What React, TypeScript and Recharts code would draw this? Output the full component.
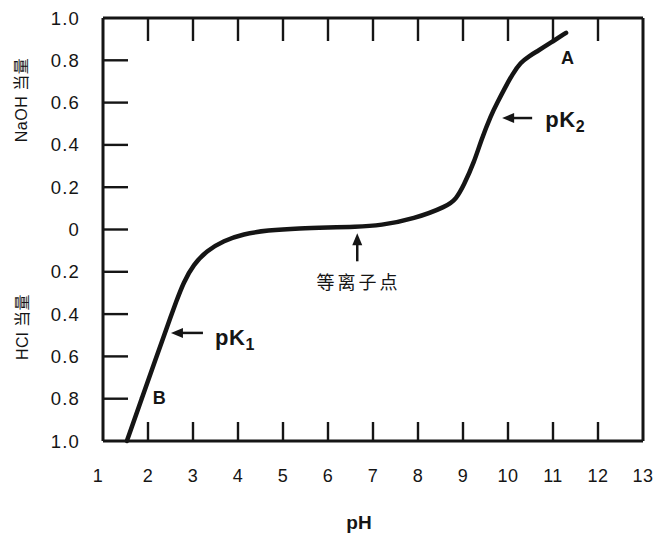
import { LineChart, Line, XAxis, YAxis, ReferenceDot } from 'recharts';

// titration curve
const phValues = [1.53, 1.86, 2.19, 2.36, 2.5, 2.62, 2.79, 3.01, 3.31, 3.68, 4.12, 4.64, 5.39, 6.0, 6.6, 7.17, 7.91, 8.65, 8.85, 9.02, 9.25, 9.4, 9.62, 9.77, 9.92, 10.1, 10.28, 10.47, 10.66, 10.95, 11.29];
const equivalents = [-1.0, -0.8, -0.6, -0.5, -0.415, -0.345, -0.25, -0.165, -0.1, -0.053, -0.021, -0.004, 0.006, 0.009, 0.012, 0.019, 0.05, 0.11, 0.145, 0.21, 0.32, 0.42, 0.54, 0.603, 0.665, 0.735, 0.79, 0.82, 0.844, 0.883, 0.93];

const phTicks = [1, 2, 3, 4, 5, 6, 7, 8, 9, 10, 11, 12, 13];
const eqTicks = [1, 0.8, 0.6, 0.4, 0.2, 0, -0.2, -0.4, -0.6, -0.8, -1];

const data = phValues.map((ph, i) => ({ ph, eq: equivalents[i] }));

const INK = '#151515';
const FONT = '"Liberation Sans", Arial, Helvetica, sans-serif';
const CJK = '"Liberation Sans", "Noto Sans CJK SC", sans-serif';

const fmtEq = (v: number) => (v === 0 ? '0' : Math.abs(v).toFixed(1));

function BottomTick({ x, y, payload }: any) {
  const v = payload.value;
  return (
    <g>
      {v > 1 && v < 13 && <line x1={x} y1={y} x2={x} y2={y - 19} stroke={INK} strokeWidth={2.4} />}
      <text x={v === 1 ? x - 5 : x} y={y + 41} textAnchor="middle" fontSize={18} fontFamily={FONT} fill={INK} letterSpacing={0.5}>
        {v}
      </text>
    </g>
  );
}

function TopTick({ x, y, payload }: any) {
  const v = payload.value;
  if (v <= 1 || v >= 13) return <g />;
  return <line x1={x} y1={y} x2={x} y2={y + 23} stroke={INK} strokeWidth={2.4} />;
}

function LeftTick({ x, y, payload }: any) {
  const v = payload.value;
  return (
    <g>
      {Math.abs(v) < 1 && <line x1={x} y1={y} x2={x + 25} y2={y} stroke={INK} strokeWidth={2.4} />}
      <text x={x - 23} y={y + 6.5} textAnchor="end" fontSize={18.5} fontFamily={FONT} fill={INK} letterSpacing={1.2}>
        {fmtEq(v)}
      </text>
    </g>
  );
}

function RightTick({ x, y, payload }: any) {
  const v = payload.value;
  if (Math.abs(v) >= 1) return <g />;
  return <line x1={x} y1={y} x2={x - 24} y2={y} stroke={INK} strokeWidth={2.4} />;
}

function YTitles({ viewBox }: any) {
  const { y } = viewBox;
  return (
    <g fontFamily={CJK} fontSize={16} fill={INK} letterSpacing={0.5}>
      <text transform={`translate(27, ${y + 82}) rotate(-90)`} textAnchor="middle">NaOH 当量</text>
      <text transform={`translate(28, ${y + 309}) rotate(-90)`} textAnchor="middle">HCl 当量</text>
    </g>
  );
}

// arrow whose tip sits at (cx, cy), pointing in dir
function Arrow({ cx, cy, dir, len }: any) {
  if (dir === 'left') {
    return (
      <g>
        <line x1={cx + 8} y1={cy} x2={cx + len} y2={cy} stroke={INK} strokeWidth={2.5} />
        <polygon points={`${cx},${cy} ${cx + 12},${cy - 5} ${cx + 12},${cy + 5}`} fill={INK} />
      </g>
    );
  }
  return (
    <g>
      <line x1={cx} y1={cy + 8} x2={cx} y2={cy + len} stroke={INK} strokeWidth={2.5} />
      <polygon points={`${cx},${cy} ${cx - 5},${cy + 12} ${cx + 5},${cy + 12}`} fill={INK} />
    </g>
  );
}

function PkText({ cx, cy, sub }: any) {
  return (
    <text x={cx} y={cy + 7} fontSize={22} fontWeight="bold" fontFamily={FONT} fill={INK} letterSpacing={0.5}>
      pK
      <tspan fontSize={16} dy={5}>{sub}</tspan>
    </text>
  );
}

function Letter({ cx, cy, text }: any) {
  return (
    <text x={cx} y={cy + 6} textAnchor="middle" fontSize={18} fontWeight="bold" fontFamily={FONT} fill={INK}>
      {text}
    </text>
  );
}

export default function App() {
  return (
    <div style={{ position: 'absolute', left: 0, top: 0, background: '#fff' }}>
      <LineChart width={659} height={535} data={data} margin={{ top: 17, right: 0, bottom: 0, left: 0 }}>
        <XAxis
          dataKey="ph"
          type="number"
          domain={[1, 13]}
          ticks={phTicks}
          interval={0}
          height={94}
          tickSize={0}
          tickMargin={0}
          tickLine={false}
          axisLine={{ stroke: INK, strokeWidth: 3 }}
          tick={<BottomTick />}
          label={{ value: 'pH', position: 'insideBottom', offset: 6, dx: -14, fontSize: 19, fontWeight: 'bold', fontFamily: FONT, fill: INK }}
        />
        <XAxis
          xAxisId="top"
          orientation="top"
          dataKey="ph"
          type="number"
          domain={[1, 13]}
          ticks={phTicks}
          interval={0}
          height={1}
          tickSize={0}
          tickMargin={0}
          tickLine={false}
          axisLine={{ stroke: INK, strokeWidth: 3 }}
          tick={<TopTick />}
        />
        <YAxis
          type="number"
          domain={[-1, 1]}
          ticks={eqTicks}
          interval={0}
          width={103}
          tickSize={0}
          tickMargin={0}
          tickLine={false}
          axisLine={{ stroke: INK, strokeWidth: 3 }}
          tick={<LeftTick />}
          label={{ content: <YTitles /> }}
        />
        <YAxis
          yAxisId="right"
          orientation="right"
          type="number"
          domain={[-1, 1]}
          ticks={eqTicks}
          interval={0}
          width={16}
          tickSize={0}
          tickMargin={0}
          tickLine={false}
          axisLine={{ stroke: INK, strokeWidth: 3 }}
          tick={<RightTick />}
        />
        <Line
          type="basis"
          dataKey="eq"
          stroke={INK}
          strokeWidth={4.5}
          strokeLinecap="round"
          strokeLinejoin="round"
          dot={false}
          activeDot={false}
          isAnimationActive={false}
        />
        <ReferenceDot x={2.51} y={-0.489} r={0} shape={(p: any) => <Arrow cx={p.cx} cy={p.cy} dir="left" len={32} />} />
        <ReferenceDot x={3.49} y={-0.513} r={0} shape={(p: any) => <PkText cx={p.cx} cy={p.cy} sub="1" />} />
        <ReferenceDot x={9.87} y={0.527} r={0} shape={(p: any) => <Arrow cx={p.cx} cy={p.cy} dir="left" len={30} />} />
        <ReferenceDot x={10.83} y={0.518} r={0} shape={(p: any) => <PkText cx={p.cx} cy={p.cy} sub="2" />} />
        <ReferenceDot x={6.65} y={-0.018} r={0} shape={(p: any) => <Arrow cx={p.cx} cy={p.cy} dir="up" len={28} />} />
        <ReferenceDot
          x={6.68}
          y={-0.248}
          r={0}
          shape={(p: any) => (
            <text x={p.cx} y={p.cy + 7} textAnchor="middle" fontSize={18} letterSpacing={3} fontFamily={CJK} fill={INK}>
              等离子点
            </text>
          )}
        />
        <ReferenceDot x={11.32} y={0.81} r={0} shape={(p: any) => <Letter cx={p.cx} cy={p.cy} text="A" />} />
        <ReferenceDot x={2.25} y={-0.797} r={0} shape={(p: any) => <Letter cx={p.cx} cy={p.cy} text="B" />} />
      </LineChart>
    </div>
  );
}
